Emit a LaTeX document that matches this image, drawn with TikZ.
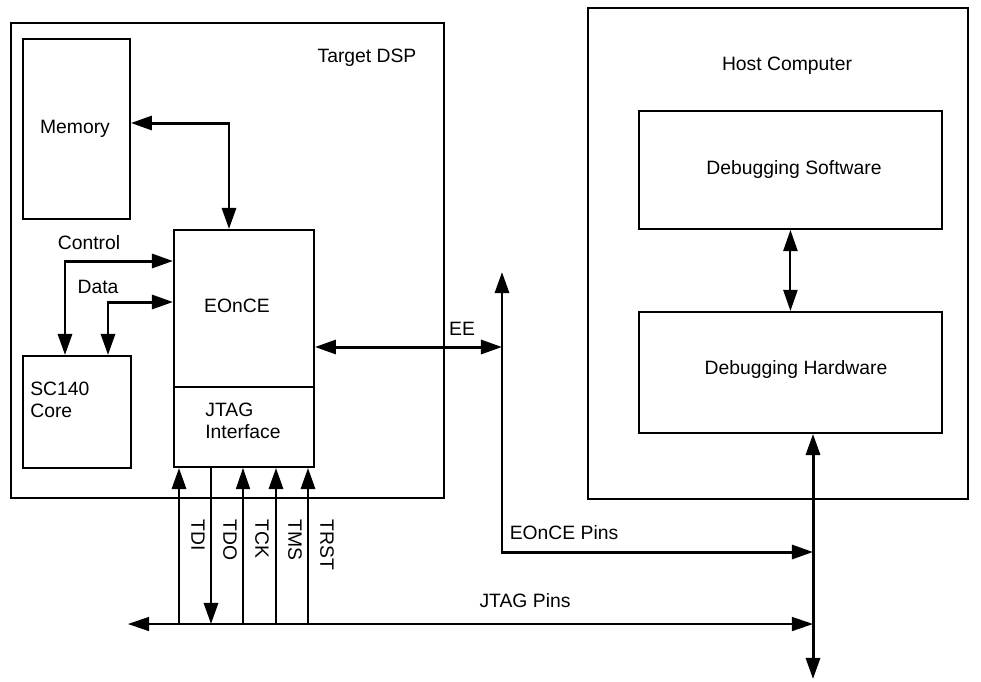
\documentclass[tikz,border=0pt]{standalone}
\usepackage{fontspec}
\setmainfont{Liberation Sans}
\usetikzlibrary{arrows.meta}

\tikzset{
  blk/.style={draw, line width=1.1pt, inner sep=0pt, anchor=north west},
  txt/.style={font=\fontsize{11}{12.3}\selectfont, inner sep=0pt, anchor=base},
  sig/.style={line width=1.7pt},
  thinsig/.style={line width=0.8pt},
  tri/.tip={Triangle[length=12pt,width=8pt]},
  dbl/.style={tri-tri},
  sigup/.style={-tri},
  sigdn/.style={tri-},
}

\begin{document}
\begin{tikzpicture}[x=0.02cm,y=-0.02cm]
\useasboundingbox (0,0) rectangle (981,681);

% target side
\node[blk, minimum width=8.66cm, minimum height=9.5cm] (dsp) at (10,22) {};
\node[blk, minimum width=2.14cm, minimum height=3.6cm] (mem) at (22,38) {};
\node[blk, minimum width=2.8cm, minimum height=3.14cm] (eonce) at (173,229) {};
\node[blk, minimum width=2.8cm, minimum height=1.6cm] (jtag) at (173,386) {};
\node[blk, minimum width=2.16cm, minimum height=2.24cm] (core) at (22,355) {};

% host side
\node[blk, minimum width=7.6cm, minimum height=9.82cm] (host) at (587,7) {};
\node[blk, minimum width=6.06cm, minimum height=2.36cm] (sw) at (638,110) {};
\node[blk, minimum width=6.06cm, minimum height=2.42cm] (hw) at (638,311) {};

% texts (at base line)
\node[txt] (tdsp) at (367,62) {Target DSP};
\node[txt] (tmem) at (75,133) {Memory};
\node[txt] (teonce) at (237,312) {EOnCE};
\node[txt, align=left, anchor=north west] (tjtag) at (205,403) {JTAG\\Interface};
\node[txt, align=left, anchor=north west] (tcore) at (30,382) {SC140\\Core};
\node[txt] (tctl) at (89,249) {Control};
\node[txt] (tdat) at (98,293) {Data};
\node[txt] (tee) at (462,335) {EE};
\node[txt] (thost) at (787,70) {Host Computer};
\node[txt] (tsw) at (794,174) {Debugging Software};
\node[txt] (thw) at (796,374) {Debugging Hardware};
\node[txt] (tep) at (564,539) {EOnCE Pins};
\node[txt] (tjp) at (525,607) {JTAG Pins};

% bend points
\coordinate (mb) at (229,123);
\coordinate (ctl) at (65,261);
\coordinate (dat) at (108,302);
\coordinate (ee) at (502,347);
\coordinate (eetop) at (502,272);
\coordinate (busend) at (813,679);
\coordinate (ep) at (813,552);
\coordinate (jl) at (128,624);

% connectors
\draw[sig, dbl] (mem.east |- mb) -| (eonce.north -| mb);
\draw[sig, dbl] (core.north -| ctl) |- (eonce.west |- ctl);
\draw[sig, dbl] (core.north -| dat) |- (eonce.west |- dat);
\draw[sig, dbl] (eonce.east |- ee) -- (ee);
\draw[sig, dbl] (eetop) |- (ep);
\draw[sig, dbl] (hw.south -| busend) -- (busend);
\draw[line width=1.2pt, dbl] (sw.south) -- (hw.north);
\draw[thinsig, dbl] (jl) -- (jl -| busend);

% jtag signals
\foreach \x/\w/\d/\lab in {179/1.7pt/sigup/TDI, 211/1.7pt/sigdn/TDO, 243/0.8pt/sigup/TCK, 276/1.7pt/sigup/TMS, 308/1.7pt/sigup/TRST}{
  \draw[line width=\w, \d] (\x,624) -- (jtag.south -| \x,0);
  \node[txt, rotate=-90, anchor=west] (l\lab) at (\x+19,519) {\lab};
}
\end{tikzpicture}
\end{document}
